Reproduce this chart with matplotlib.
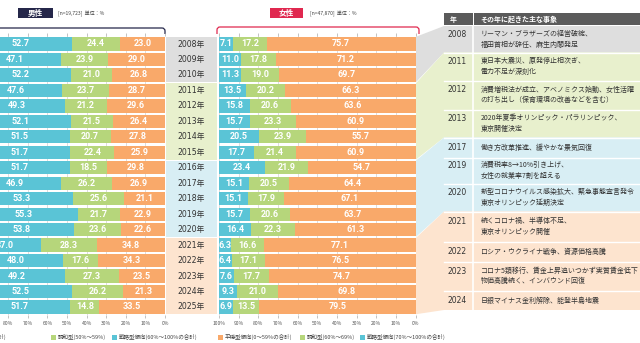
import matplotlib.pyplot as plt
from matplotlib.patches import Polygon, Rectangle, PathPatch
from matplotlib.path import Path

plt.rcParams['font.family'] = ['Noto Sans CJK JP', 'DejaVu Sans']

years = list(range(2008, 2026))
year_labels = [f'{y}年' for y in years]

# 男性 (戦略型傾向 / 調和型 / 平穏型傾向)
men_strategic = [52.7, 47.1, 52.2, 47.6, 49.3, 52.1, 51.5, 51.7, 51.7, 46.9, 53.3, 55.3, 53.8, 37.0, 48.0, 49.2, 52.5, 51.7]
men_harmony = [24.4, 23.9, 21.0, 23.7, 21.2, 21.5, 20.7, 22.4, 18.5, 26.2, 25.6, 21.7, 23.6, 28.3, 17.6, 27.3, 26.2, 14.8]
men_calm = [23.0, 29.0, 26.8, 28.7, 29.6, 26.4, 27.8, 25.9, 29.8, 26.9, 21.1, 22.9, 22.6, 34.8, 34.3, 23.5, 21.3, 33.5]

# 女性
women_strategic = [7.1, 11.0, 11.3, 13.5, 15.8, 15.7, 20.5, 17.7, 23.4, 15.1, 15.1, 15.7, 16.4, 6.3, 6.4, 7.6, 9.3, 6.9]
women_harmony = [17.2, 17.8, 19.0, 20.2, 20.6, 23.3, 23.9, 21.4, 21.9, 20.5, 17.9, 20.6, 22.3, 16.6, 17.1, 17.7, 21.0, 13.5]
women_calm = [75.7, 71.2, 69.7, 66.3, 63.6, 60.9, 55.7, 60.9, 54.7, 64.4, 67.1, 63.7, 61.3, 77.1, 76.5, 74.7, 69.8, 79.5]

event_years = ['2008', '2011', '2012', '2013', '2017', '2019', '2020', '2021', '2022', '2023', '2024']
events = [
    'リーマン・ブラザーズの経営破綻、\n福田首相が辞任、麻生内閣発足',
    '東日本大震災、原発停止相次ぎ、\n電力不足が深刻化',
    '消費増税法が成立、アベノミクス始動、女性活躍\nの打ち出し（保育環境の改善などを含む）',
    '2020年夏季オリンピック・パラリンピック、\n東京開催決定',
    '働き方改革推進、緩やかな景気回復',
    '消費税率8→10%引き上げ、\n女性の就業率7割を超える',
    '新型コロナウイルス感染拡大、緊急事態宣言発令\n東京オリンピック延期決定',
    '続くコロナ禍、半導体不足、\n東京オリンピック開催',
    'ロシア・ウクライナ戦争、資源価格高騰',
    'コロナ5類移行、賃金上昇追いつかず実質賃金低下\n物価高騰続く、インバウンド回復',
    '日銀マイナス金利解除、能登半島地震',
]
event_rows = [(27, 52), (53, 80), (81, 109), (110, 137), (138, 157), (158, 183),
              (184, 211), (212, 241), (242, 261), (262, 290), (291, 310)]

blue = '#5ac4d6'
green = '#b6d67b'
orange = '#f9a96a'
band_colors = ['#dedede', '#e8f0cd', '#d8eef4', '#fde4cf']
band_rows = [(0, 2), (3, 7), (8, 12), (13, 17)]
band_table = [(26, 52.5), (52.5, 137.5), (137.5, 211.5), (211.5, 310)]

W, H = 640, 343
fig = plt.figure(figsize=(6.4, 3.43), dpi=100)
bg = fig.add_axes([0, 0, 1, 1])
bg.set_xlim(0, W)
bg.set_ylim(H, 0)
bg.axis('off')

pitch = 15.47
y0 = 44 - pitch / 2
y1 = 44 + pitch * 17.5


def px_axes(x0, ya, x1, yb):
    return fig.add_axes([x0 / W, 1 - yb / H, (x1 - x0) / W, (yb - ya) / H])


def row_y(i):
    return 44 + pitch * i


# background bands: year column + connector to the table
for (a, b), (ta, tb), c in zip(band_rows, band_table, band_colors):
    top = row_y(a) - pitch / 2 + 0.5
    bot = row_y(b) + pitch / 2 - 0.5
    bg.add_patch(Rectangle((165.5, top), 51.5, bot - top, color=c, lw=0))
    bg.add_patch(Polygon([(416, top), (444, ta), (640, ta), (640, tb), (444, tb), (416, bot)],
                         closed=True, color=c, lw=0))

for i, y in enumerate(year_labels):
    bg.text(191, row_y(i), y, ha='center', va='center', fontsize=5.6, color='#333333',
            family=['DejaVu Sans', 'Noto Sans CJK JP'])

# table
bg.add_patch(Rectangle((444, 13), 28.5, 12, color='#5b5b5b', lw=0))
bg.add_patch(Rectangle((474, 13), 166, 12, color='#5b5b5b', lw=0))
bg.text(450, 19.2, '年', color='white', fontsize=5, fontweight='bold', va='center')
bg.text(480, 19.2, 'その年に起きた主な事象', color='white', fontsize=5, fontweight='bold', va='center')
for (ya, yb) in event_rows[1:]:
    bg.plot([444, 640], [ya - 0.5, ya - 0.5], color='white', lw=1)
bg.plot([473.2, 473.2], [26, 310], color='white', lw=1.2)
for yr, ev, (ya, yb) in zip(event_years, events, event_rows):
    c = (ya + yb) / 2
    n = ev.count('\n') + 1
    bg.text(447, c - 5 * (n - 1), yr, fontsize=5.5, color='#333333', va='center',
            family=['DejaVu Sans'])
    bg.text(480.5, c, ev, fontsize=5.0, color='#333333', va='center', linespacing=1.45)


def draw_panel(ax, strat, harm, calm):
    idx = list(range(len(years)))
    ax.barh(idx, calm, left=0, height=0.86, color=orange, zorder=2)
    left2 = [c for c in calm]
    ax.barh(idx, harm, left=left2, height=0.86, color=green, zorder=2)
    left3 = [c + h for c, h in zip(calm, harm)]
    ax.barh(idx, strat, left=left3, height=0.86, color=blue, zorder=2)
    for i in idx:
        for val, lo in ((calm[i], 0), (harm[i], calm[i]), (strat[i], left3[i])):
            ax.text(lo + val / 2, i, f'{val:.1f}', ha='center', va='center', color='white',
                    fontsize=6.5, fontweight='bold', zorder=3,
                    family=['Roboto', 'DejaVu Sans'])
    ax.set_xlim(100, 0)
    ax.set_ylim(17.5, -0.5)
    ax.set_xticks(range(0, 101, 10))
    ax.set_xticklabels([f'{v}%' for v in range(0, 101, 10)])
    ax.set_yticks([])
    ax.grid(axis='x', color='#cfcfcf', lw=0.5, zorder=0)
    ax.set_axisbelow(True)
    ax.tick_params(axis='x', top=True, bottom=True, direction='out', length=2.5, width=0.5,
                   color='#aaaaaa', labelsize=3.6, labelcolor='#555555', pad=2)
    for s in ax.spines.values():
        s.set_visible(False)


ax_m = px_axes(165 - 196, y0, 165, y1)
ax_m.patch.set_alpha(0)
draw_panel(ax_m, men_strategic, men_harmony, men_calm)

ax_w = px_axes(219, y0, 415.5, y1)
ax_w.set_facecolor('white')
draw_panel(ax_w, women_strategic, women_harmony, women_calm)

# headers
bg.add_patch(Rectangle((18.3, 8.3), 34.4, 10, color='#25274a', lw=0))
bg.text(35.5, 13.5, '男性', color='white', fontsize=5.5, fontweight='bold', ha='center', va='center')
bg.text(58, 13.8, '[n=19,723]  単位：%', color='#444444', fontsize=3.6, va='center')
bg.add_patch(Rectangle((270, 8.3), 32.7, 10, color='#e0284f', lw=0))
bg.text(286.3, 13.5, '女性', color='white', fontsize=5.5, fontweight='bold', ha='center', va='center')
bg.text(310, 13.8, '[n=47,870]  単位：%', color='#444444', fontsize=3.6, va='center')

# brackets
men_br = Path([(-5, 28), (162, 28), (165, 28), (165, 31), (165, 34)],
              [Path.MOVETO, Path.LINETO, Path.CURVE3, Path.CURVE3, Path.LINETO])
bg.add_patch(PathPatch(men_br, fill=False, ec='#25274a', lw=0.9))
women_br = Path([(217, 34), (217, 30), (217, 27), (220, 27), (416, 27), (419, 27), (419, 30), (419, 34)],
                [Path.MOVETO, Path.LINETO, Path.CURVE3, Path.CURVE3, Path.LINETO, Path.CURVE3, Path.CURVE3, Path.LINETO])
bg.add_patch(PathPatch(women_br, fill=False, ec='#e0284f', lw=0.9))


# legends
def legend_item(x, color, label):
    bg.add_patch(Rectangle((x, 334.5), 5, 5, color=color, lw=0))
    bg.text(x + 7, 337.2, label, fontsize=4, color='#444444', va='center')


legend_item(-68, orange, '平穏型傾向(0～49%の合計)')
legend_item(51, green, '調和型(50%～59%)')
legend_item(112, blue, '戦略型傾向(60%～100%の合計)')
legend_item(218, orange, '平穏型傾向(0～59%の合計)')
legend_item(300, green, '調和型(60%～69%)')
legend_item(360, blue, '戦略型傾向(70%～100%の合計)')

fig.savefig('out.png', dpi=100)
